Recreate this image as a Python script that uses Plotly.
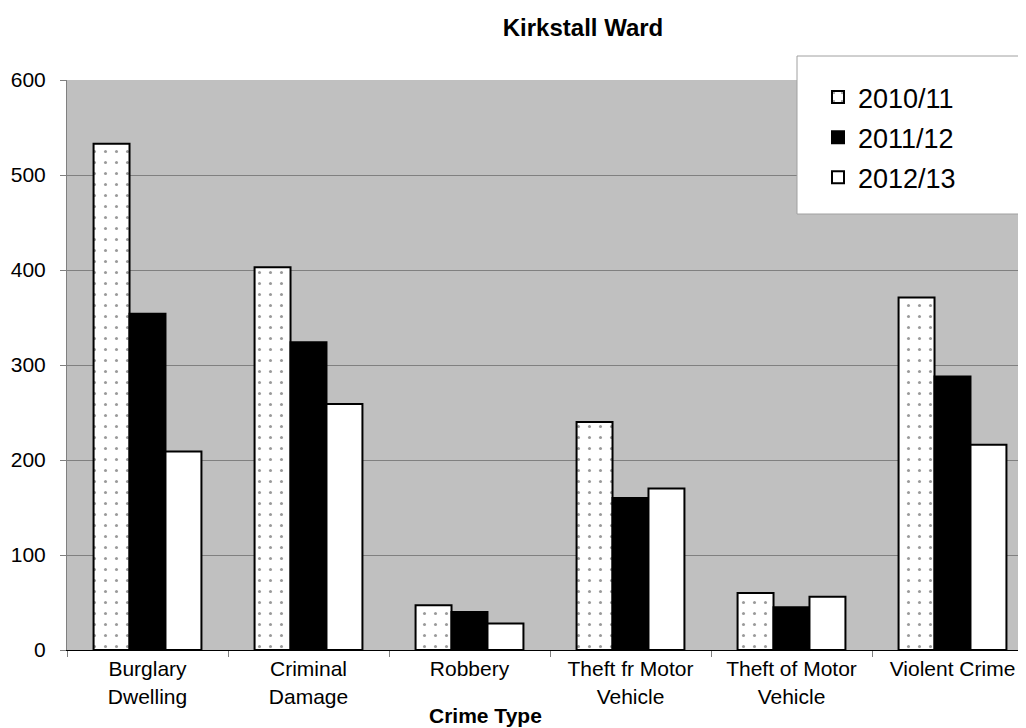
import plotly.graph_objects as go

categories = ["Burglary<br>Dwelling", "Criminal<br>Damage", "Robbery",
              "Theft fr Motor<br>Vehicle", "Theft of Motor<br>Vehicle", "Violent Crime"]
series_names = ["2010/11", "2011/12", "2012/13"]
v_2010 = [533, 403, 47, 240, 60, 371]
v_2011 = [354, 324, 40, 160, 45, 288]
v_2012 = [209, 259, 28, 170, 56, 216]

OFF = 8  # page body margin
W, H = 1018, 720
L, R, T, B = 59, 0, 72, 78
pw = W - L - R
ph = H - T - B
cat_w = 161.0

def px_x(x):
    return (x - OFF - L) / pw

def px_y(y):
    return (H - B - (y - OFF)) / ph

FONT = "Liberation Sans, Arial, sans-serif"

fig = go.Figure()
fig.add_trace(go.Bar(
    name=series_names[0], x=categories, y=v_2010,
    marker=dict(color="white", line=dict(color="black", width=2),
                pattern=dict(shape=".", fgcolor="#333333", bgcolor="white",
                             size=11, solidity=0.06, fillmode="overlay")),
))
fig.add_trace(go.Bar(
    name=series_names[1], x=categories, y=v_2011,
    marker=dict(color="black", line=dict(color="black", width=2)),
))
fig.add_trace(go.Bar(
    name=series_names[2], x=categories, y=v_2012,
    marker=dict(color="white", line=dict(color="black", width=2)),
))

fig.add_shape(type="rect", xref="paper", yref="paper",
              x0=px_x(797), x1=px_x(1040), y0=px_y(214), y1=px_y(56),
              fillcolor="white", line=dict(color="#A0A0A0", width=1), layer="above")

fig.add_annotation(text="<b>Crime Type</b>", xref="paper", yref="paper",
                   x=px_x(485), y=px_y(715), showarrow=False,
                   xanchor="center", yanchor="middle",
                   font=dict(family=FONT, size=21, color="black"))

fig.update_layout(
    width=W, height=H,
    margin=dict(l=L, r=R, t=T, b=B, pad=0),
    paper_bgcolor="white", plot_bgcolor="#C0C0C0",
    barmode="group", bargap=0.33, bargroupgap=0,
    font=dict(family=FONT, size=21, color="black"),
    title=dict(text="<b>Kirkstall Ward</b>", x=px_x(583), xref="paper", xanchor="center",
               y=1 - (28 - OFF) / H, yref="container", yanchor="middle",
               font=dict(family=FONT, size=24, color="black")),
    legend=dict(x=px_x(818), y=px_y(73), xanchor="left", yanchor="top",
                bgcolor="rgba(0,0,0,0)", borderwidth=0,
                font=dict(family=FONT, size=27, color="black"),
                tracegroupgap=2, itemwidth=30),
    showlegend=True,
)
for i, tr in enumerate(fig.data):
    tr.legendgroup = "g%d" % i

fig.update_xaxes(
    type="category", range=[-0.5, -0.5 + pw / cat_w],
    showgrid=False, showline=True, linecolor="black", linewidth=1,
    ticks="outside", tickson="boundaries", ticklen=6, tickcolor="#808080",
    tickfont=dict(family=FONT, size=21, color="black"), fixedrange=True,
)
fig.update_yaxes(
    range=[0, 600], dtick=100, showgrid=True, gridcolor="#808080", gridwidth=1,
    showline=True, linecolor="#808080", linewidth=1,
    ticks="outside", ticklen=6, tickcolor="#808080",
    ticklabelstandoff=10,
    tickfont=dict(family=FONT, size=21, color="black"), zeroline=False,
)

fig.write_html("out.html")
